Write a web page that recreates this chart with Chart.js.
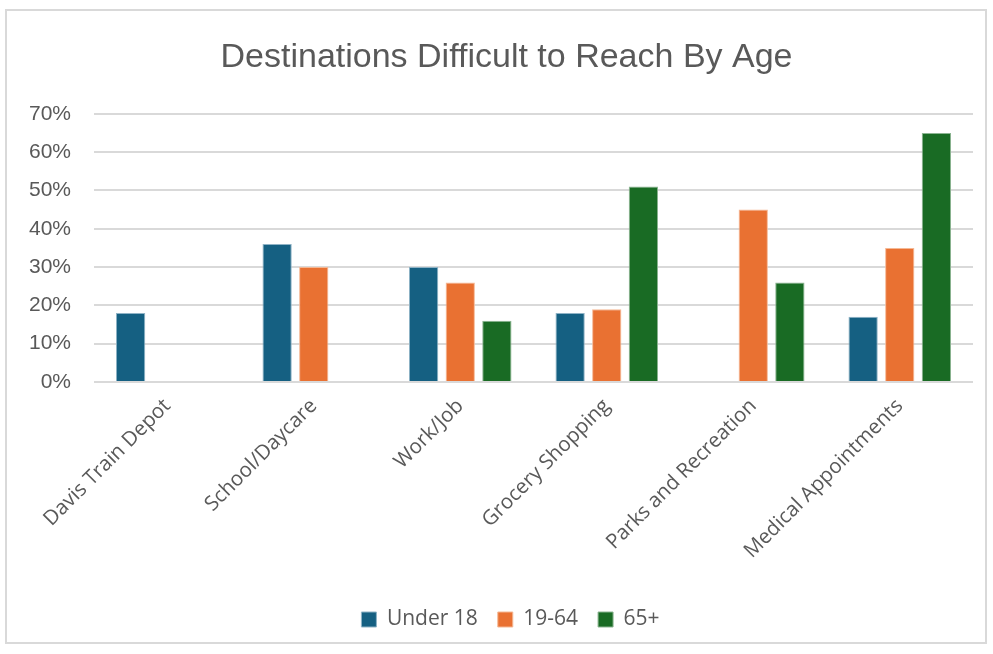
<!DOCTYPE html>
<html>
<head>
<meta charset="utf-8">
<title>Destinations Difficult to Reach By Age</title>
<script src="https://cdn.jsdelivr.net/npm/chart.js@4.4.1/dist/chart.umd.min.js"></script>
<style>
  html, body { margin: 0; padding: 0; background: #fff; }
  #wrap { position: absolute; left: 0; top: 0; width: 993px; height: 654px; }
  #frame { position: absolute; left: 5px; top: 9px; width: 982px; height: 635px; border: 2px solid #d9d9d9; box-sizing: border-box; }
</style>
</head>
<body>
<div id="wrap">
  <div id="frame"></div>
  <canvas id="barChart" width="993" height="654"></canvas>
</div>
<script>
// destinations on the x axis
var destinations = ["Davis Train Depot", "School/Daycare", "Work/Job", "Grocery Shopping", "Parks and Recreation", "Medical Appointments"];
// percent of respondents per age group (null = no bar)
var under18 = [18, 36, 30, 18, null, 17];
var age19to64 = [null, 30, 26, 19, 45, 35];
var age65plus = [null, null, 16, 51, 26, 65];
var yTicks = [0, 10, 20, 30, 40, 50, 60, 70];

var gray = "#595959";

// nudge title and legend a little to the right of the canvas centre
var shiftBoxes = {
    id: "shiftBoxes",
    afterLayout: function (chart) {
        chart.titleBlock.left += 10;
        chart.titleBlock.right += 10;
        chart.legend.left += 14;
        chart.legend.right += 14;
    }
};

var ctx = document.getElementById("barChart").getContext("2d");
var chart = new Chart(ctx, {
    type: "bar",
    data: {
        labels: destinations,
        datasets: [
            {
                label: "Under 18",
                data: under18,
                backgroundColor: "#156082",
                borderColor: "#8fb3c6",
                borderWidth: 1
            }, {
                label: "19-64",
                data: age19to64,
                backgroundColor: "#E97132",
                borderColor: "#f5b894",
                borderWidth: 1
            }, {
                label: "65+",
                data: age65plus,
                backgroundColor: "#196B24",
                borderColor: "#8cb592",
                borderWidth: 1
            }
        ]
    },
    plugins: [shiftBoxes],
    options: {
        responsive: false,
        animation: false,
        layout: { padding: { left: 20, right: 20, top: 10, bottom: 14 } },
        datasets: {
            bar: { categoryPercentage: 0.75, barPercentage: 0.8 }
        },
        plugins: {
            title: {
                display: true,
                text: "Destinations Difficult to Reach By Age",
                color: gray,
                font: { family: "'Liberation Sans', sans-serif", size: 34, weight: "normal" },
                padding: { top: 27, bottom: 36 }
            },
            legend: {
                position: "bottom",
                labels: {
                    color: gray,
                    boxWidth: 15,
                    boxHeight: 15,
                    padding: 20,
                    font: { family: "'Open Sans', sans-serif", size: 21 }
                }
            },
            tooltip: { enabled: false }
        },
        scales: {
            y: {
                min: 0,
                max: 70,
                afterBuildTicks: function (axis) {
                    axis.ticks = yTicks.map(function (v) { return { value: v }; });
                },
                afterFit: function (axis) { axis.width = 74; },
                border: { display: false },
                grid: { color: "#d9d9d9", lineWidth: 2, drawTicks: false },
                ticks: {
                    color: gray,
                    padding: 23,
                    font: { family: "'Liberation Sans', Arial, sans-serif", size: 21 },
                    callback: function (v) { return v + "%"; }
                }
            },
            x: {
                afterFit: function (axis) { axis.height = 207; },
                border: { display: false },
                grid: { display: false },
                ticks: {
                    color: gray,
                    minRotation: 45,
                    maxRotation: 45,
                    padding: 4,
                    font: { family: "'Open Sans', sans-serif", size: 20.5 }
                }
            }
        }
    }
});
</script>
</body>
</html>
